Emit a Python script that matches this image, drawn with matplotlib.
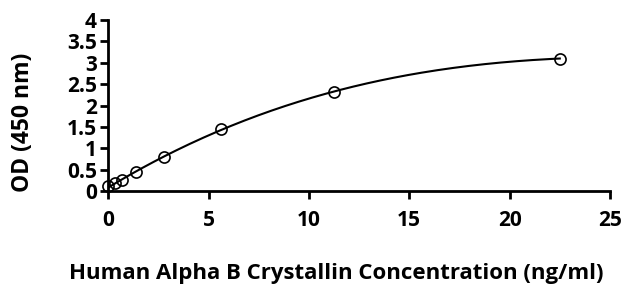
import numpy as np
import matplotlib.pyplot as plt

conc = [0, 0.35, 0.7, 1.4, 2.8, 5.6, 11.25, 22.5]
od = [0.11, 0.18, 0.26, 0.44, 0.8, 1.45, 2.32, 3.1]
x_ticks = [0, 5, 10, 15, 20, 25]
y_ticks = [0, 0.5, 1, 1.5, 2, 2.5, 3, 3.5, 4]

plt.rcParams['font.family'] = ['Open Sans', 'DejaVu Sans']
plt.rcParams['font.weight'] = 'bold'

fig = plt.figure(figsize=(6.25, 2.86), dpi=100)
ax = fig.add_axes([0.173, 0.332, 0.803, 0.598])

# trend line fitted through the standards
coef = np.polyfit(conc, od, 3)
xs = np.linspace(min(conc), max(conc), 200)
ax.plot(xs, np.polyval(coef, xs), color='black', lw=1.5, zorder=2)
ax.plot(conc, od, 'o', mfc='none', mec='black', mew=1.2, ms=8, zorder=3,
        clip_on=False)

ax.set_xlim(0, 25)
ax.set_ylim(0, 4)
ax.set_xticks(x_ticks)
ax.set_yticks(y_ticks)
ax.set_xticklabels([str(t) for t in x_ticks])
ax.set_yticklabels(['0', '0.5', '1', '1.5', '2', '2.5', '3', '3.5', '4'])
ax.tick_params(direction='out', length=6, width=2, labelsize=15, pad=2)
ax.tick_params(axis='x', pad=8)
for s in ['top', 'right']:
    ax.spines[s].set_visible(False)
for s in ['left', 'bottom']:
    ax.spines[s].set_linewidth(2)
ax.set_xlabel('Human Alpha B Crystallin Concentration (ng/ml)', fontsize=16,
              fontweight='bold')
ax.set_ylabel('OD (450 nm)', fontsize=16.5, fontweight='bold')
ax.xaxis.set_label_coords(0.455, -0.42)
ax.yaxis.set_label_coords(-0.145, 0.40)
fig.savefig('out.png', dpi=100)
